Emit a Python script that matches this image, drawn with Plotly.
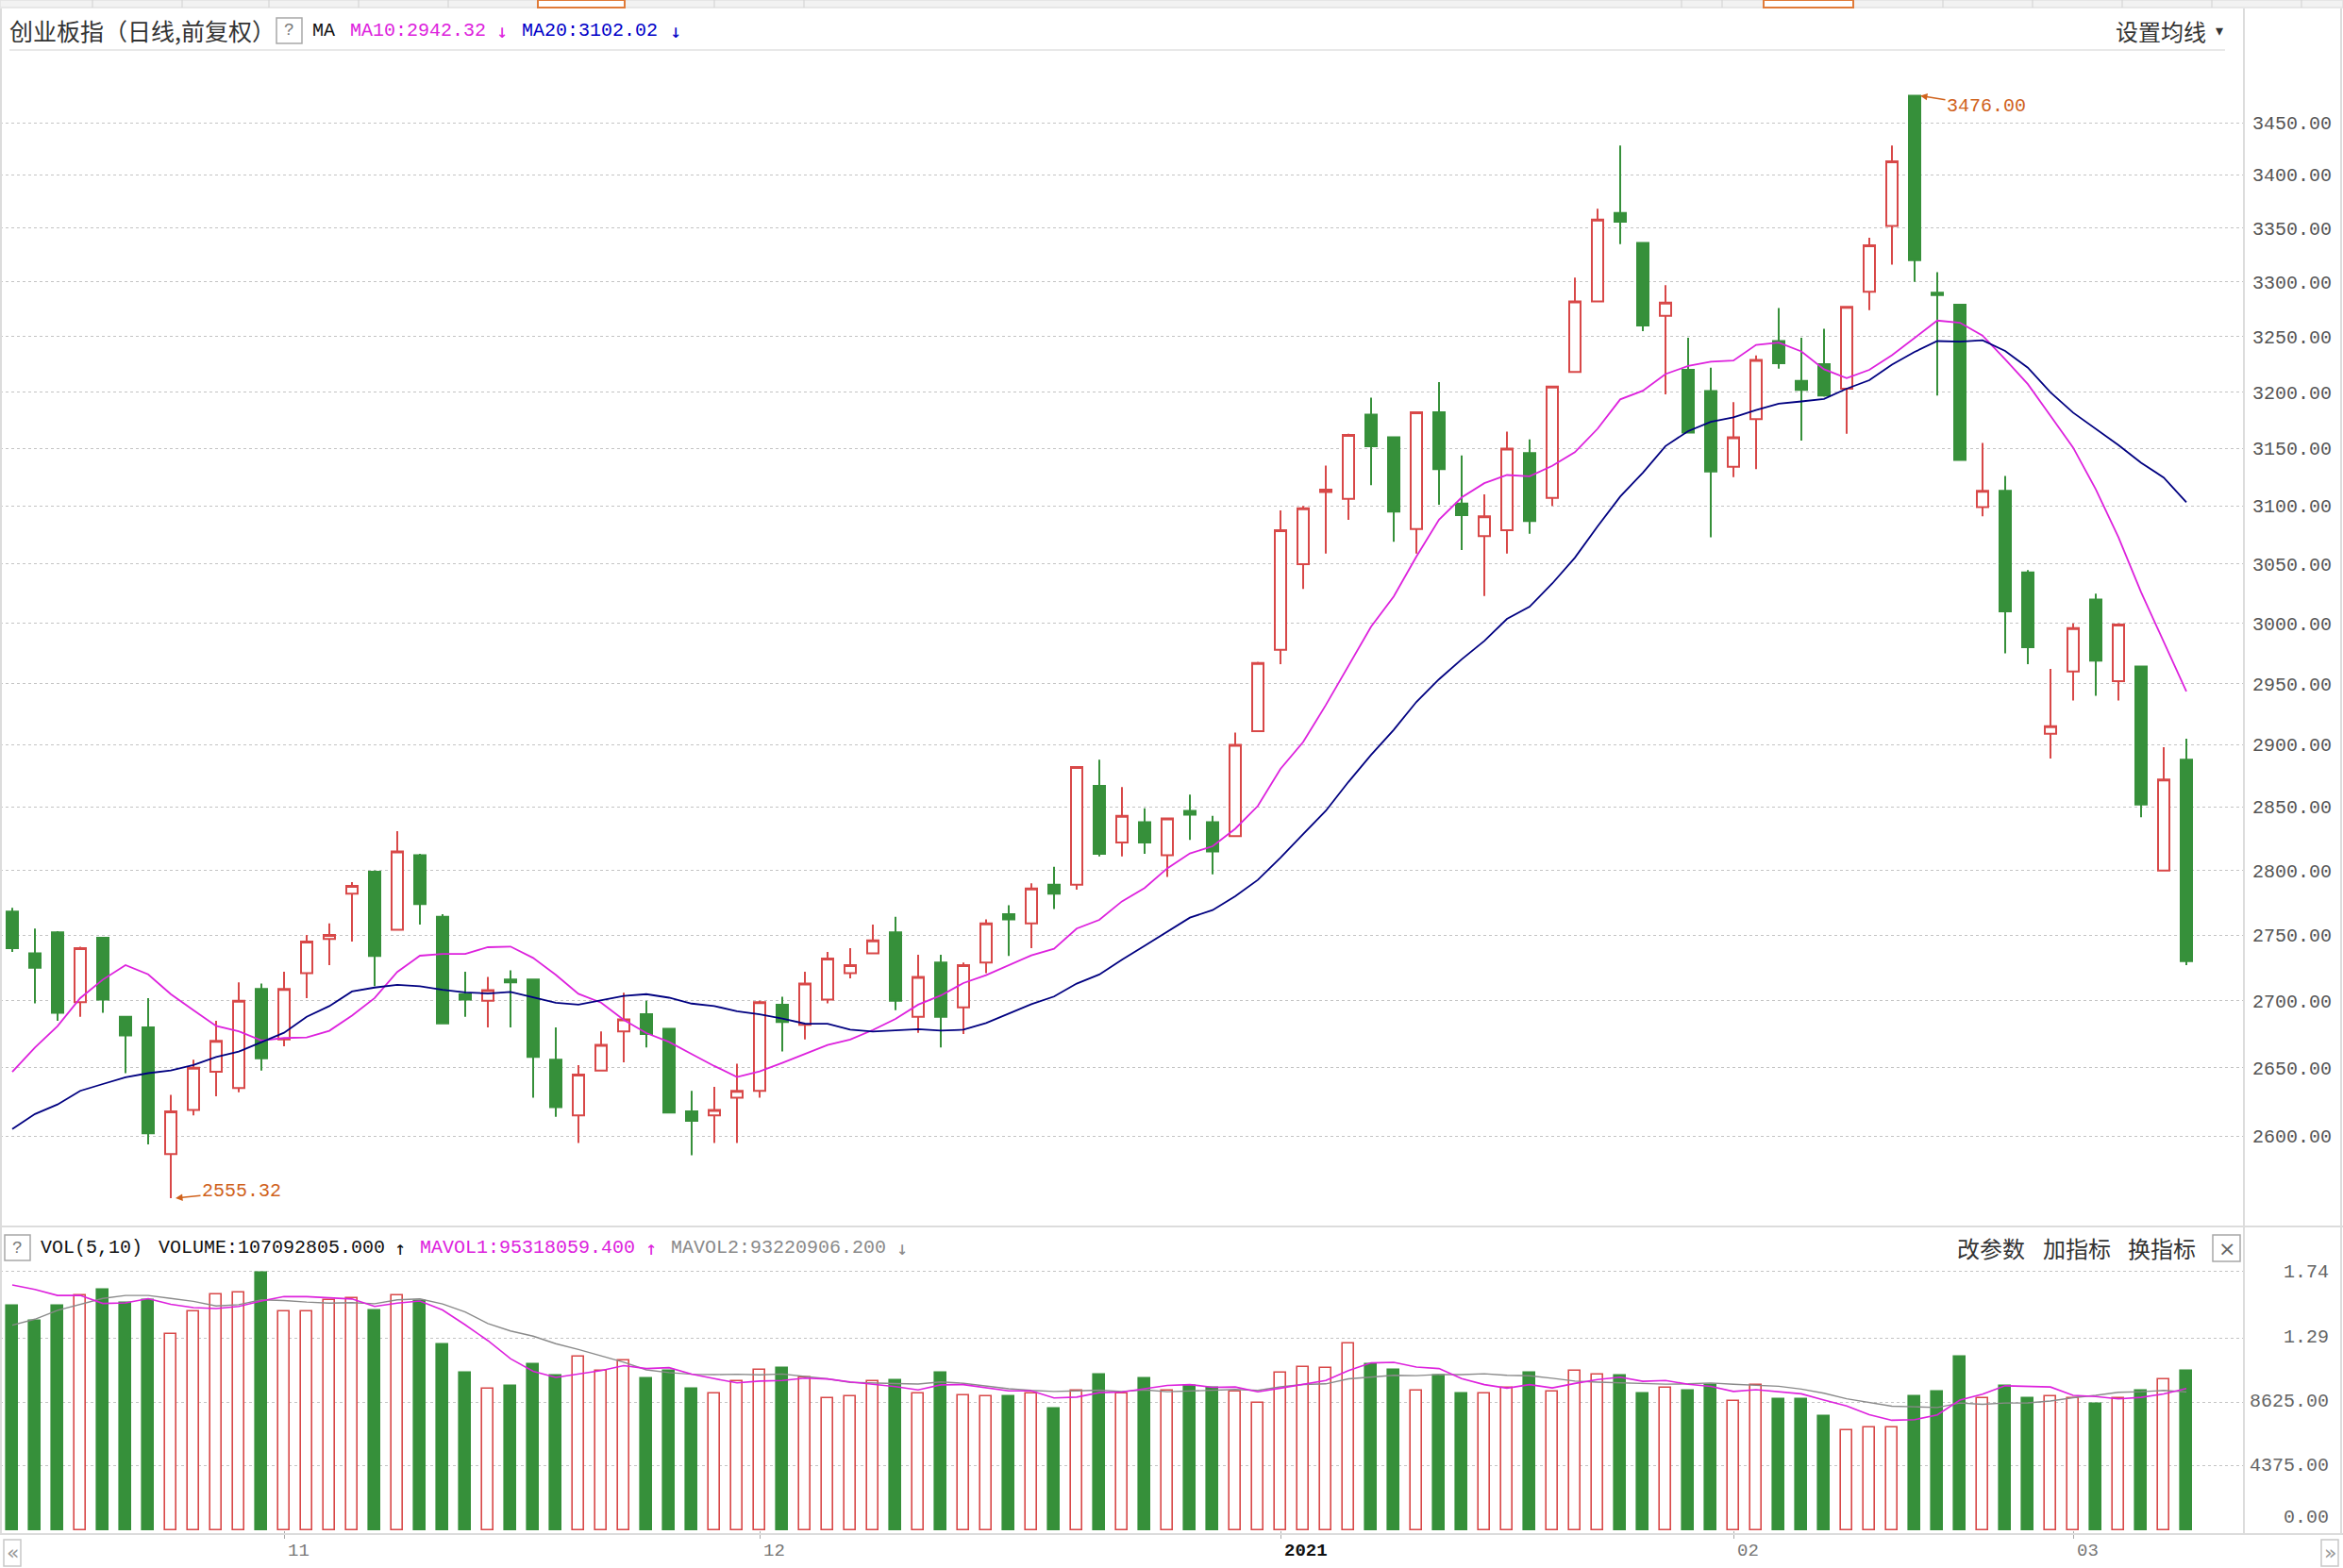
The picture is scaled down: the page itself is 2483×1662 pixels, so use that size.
import math
import pandas as pd
import plotly.graph_objects as go

W, H = 2483, 1662

# trading days shown (ChiNext daily), SSE holidays removed
holidays = ["2021-01-01", "2021-02-11", "2021-02-12", "2021-02-15", "2021-02-16", "2021-02-17"]
dates = [d.strftime("%Y-%m-%d") for d in pd.bdate_range("2020-10-15", "2021-03-08")
         if d.strftime("%Y-%m-%d") not in holidays]

open_ = [2768, 2736, 2752, 2699, 2748, 2688, 2680, 2587, 2619, 2647,
         2635, 2709, 2671, 2721, 2747, 2782, 2799, 2754, 2812, 2764,
         2705, 2700, 2716, 2716, 2656, 2615, 2648, 2677, 2690, 2679,
         2618, 2615, 2628, 2633, 2697, 2682, 2701, 2721, 2736, 2752,
         2688, 2729, 2695, 2729, 2766, 2759, 2789, 2789, 2867, 2822,
         2838, 2812, 2847, 2838, 2827, 2911, 2978, 3050, 3112, 3106,
         3180, 3160, 3080, 3182, 3102, 3074, 3079, 3146, 3107, 3218,
         3282, 3364, 3336, 3269, 3220, 3201, 3134, 3176, 3246, 3210,
         3225, 3203, 3291, 3352, 3476, 3290, 3279, 3099, 3113, 3043,
         2909, 2960, 3020, 2952, 2964, 2800, 2888]
high = [2771, 2755, 2753, 2741, 2748, 2688, 2702, 2630, 2656, 2685,
        2714, 2713, 2722, 2750, 2759, 2791, 2800, 2831, 2813, 2766,
        2722, 2718, 2723, 2716, 2680, 2652, 2677, 2706, 2700, 2679,
        2633, 2636, 2653, 2700, 2703, 2722, 2737, 2740, 2758, 2764,
        2735, 2735, 2729, 2762, 2773, 2790, 2803, 2882, 2888, 2866,
        2849, 2841, 2860, 2843, 2910, 2968, 3096, 3100, 3135, 3163,
        3195, 3160, 3182, 3209, 3144, 3110, 3165, 3158, 3205, 3304,
        3368, 3428, 3336, 3297, 3249, 3222, 3191, 3233, 3276, 3249,
        3257, 3277, 3341, 3428, 3476, 3309, 3280, 3155, 3126, 3045,
        2962, 3000, 3025, 3000, 2964, 2898, 2905]
low = [2737, 2698, 2685, 2688, 2691, 2646, 2594, 2555.32, 2615, 2629,
       2632, 2648, 2666, 2702, 2727, 2745, 2711, 2754, 2758, 2683,
       2688, 2680, 2680, 2628, 2614, 2595, 2648, 2654, 2665, 2617,
       2586, 2595, 2595, 2628, 2662, 2671, 2698, 2717, 2736, 2693,
       2676, 2665, 2675, 2721, 2734, 2740, 2770, 2785, 2811, 2811,
       2813, 2795, 2824, 2797, 2827, 2911, 2966, 3029, 3059, 3088,
       3118, 3069, 3059, 3101, 3062, 3023, 3059, 3076, 3100, 3218,
       3282, 3335, 3255, 3198, 3164, 3073, 3125, 3132, 3221, 3157,
       3196, 3163, 3274, 3316, 3300, 3197, 3140, 3091, 2975, 2966,
       2889, 2936, 2940, 2936, 2842, 2800, 2727]
close = [2740, 2725, 2691, 2740, 2701, 2674, 2602, 2618, 2650, 2670,
         2700, 2657, 2709, 2745, 2750, 2788, 2734, 2815, 2774, 2683,
         2701, 2708, 2714, 2658, 2621, 2645, 2667, 2686, 2675, 2617,
         2611, 2619, 2633, 2699, 2684, 2713, 2732, 2727, 2746, 2700,
         2718, 2688, 2727, 2759, 2762, 2786, 2782, 2882, 2813, 2843,
         2822, 2841, 2844, 2815, 2900, 2967, 3079, 3098, 3114, 3162,
         3152, 3095, 3182, 3132, 3092, 3091, 3150, 3087, 3205, 3282,
         3358, 3356, 3260, 3281, 3164, 3130, 3160, 3229, 3226, 3202,
         3197, 3277, 3334, 3413, 3320, 3288, 3140, 3113, 3010, 2980,
         2915, 2996, 2969, 2999, 2852, 2872, 2730]

# volume, millions of shares
volume = [151, 141, 151, 158, 162, 153, 155, 132, 147, 159,
          160, 173, 147, 147, 155, 156, 148, 158, 154, 125,
          106, 95, 97, 112, 104, 117, 107, 114, 102, 107,
          95, 92, 100, 108, 109, 103, 89, 90, 100, 101,
          92, 106, 91, 90, 90, 92, 82, 94, 105, 92,
          102, 94, 97, 96, 93, 86, 106, 110, 109, 126,
          112, 108, 94, 104, 92, 92, 96, 106, 93, 107,
          105, 104, 92, 96, 94, 98, 87, 98, 88, 88,
          77, 67, 69, 69, 90, 93, 117, 89, 97, 89,
          90, 89, 85, 89, 94, 101.6, 107.09]

# MA values before enough closes are on screen
ma10_head = [2647, 2665, 2681, 2702, 2716, 2727, 2720, 2705, 2693]
ma20_head = [2605, 2616, 2623, 2633, 2638, 2643, 2646, 2648, 2652, 2658,
             2662, 2669, 2676, 2688, 2696, 2707, 2710, 2712, 2711]
mavol1_head = [165, 162, 158, 158]
mavol2_head = [138, 142, 148, 152, 156, 158, 158, 156, 154]


def moving(vals, n, head):
    return head + [sum(vals[i - n + 1:i + 1]) / n for i in range(n - 1, len(vals))]


ma10 = moving(close, 10, ma10_head)
ma20 = moving(close, 20, ma20_head)
mavol1 = moving(volume, 5, mavol1_head)
mavol2 = moving(volume, 10, mavol2_head)

month_days = ["2020-11-02", "2020-12-01", "2021-01-04", "2021-02-01", "2021-03-01"]
month_text = ["11", "12", "2021", "02", "03"]
price_ticks = list(range(2600, 3451, 50))

RED = "#d84848"
GREEN = "#36903a"
MAG = "#dd22dd"
NAVY = "#000080"
GRAY = "#8a8a8a"
MONO = "Liberation Mono, DejaVu Sans Mono, monospace"
CJK = "Noto Sans CJK SC"

up = [c > o for o, c in zip(open_, close)]

fig = go.Figure()
fig.add_trace(go.Candlestick(
    x=dates, open=open_, high=high, low=low, close=close,
    increasing=dict(line=dict(color=RED, width=2), fillcolor="white"),
    decreasing=dict(line=dict(color=GREEN, width=2), fillcolor=GREEN),
    whiskerwidth=0, showlegend=False, xaxis="x", yaxis="y"))
fig.add_trace(go.Scatter(x=dates, y=ma10, mode="lines", line=dict(color=MAG, width=1.8),
                         showlegend=False, xaxis="x", yaxis="y"))
fig.add_trace(go.Scatter(x=dates, y=ma20, mode="lines", line=dict(color=NAVY, width=1.8),
                         showlegend=False, xaxis="x", yaxis="y"))

fig.add_trace(go.Bar(
    x=dates, y=volume, width=0.52,
    marker=dict(color=["white" if u else GREEN for u in up],
                line=dict(color=[RED if u else GREEN for u in up], width=1.6)),
    showlegend=False, xaxis="x2", yaxis="y2"))
fig.add_trace(go.Scatter(x=dates, y=mavol2, mode="lines", line=dict(color=GRAY, width=1.4),
                         showlegend=False, xaxis="x2", yaxis="y2"))
fig.add_trace(go.Scatter(x=dates, y=mavol1, mode="lines", line=dict(color=MAG, width=1.6),
                         showlegend=False, xaxis="x2", yaxis="y2"))


def X(px):
    return px / W


def Y(py):
    return 1 - py / H


def note(text, px, py, color, size=20, family=MONO, anchor="left"):
    return dict(text=text, x=X(px), y=Y(py), xref="paper", yref="paper", xanchor=anchor,
                yanchor="middle", showarrow=False, font=dict(family=family, size=size, color=color))


def line(x0, y0, x1, y1, color="#dcdcdc", width=2):
    return dict(type="line", xref="paper", yref="paper", x0=X(x0), y0=Y(y0), x1=X(x1), y1=Y(y1),
                line=dict(color=color, width=width))


def box(x0, y0, x1, y1, color="#a8a8a8", fill="rgba(0,0,0,0)", width=1.5):
    return dict(type="rect", xref="paper", yref="paper", x0=X(x0), y0=Y(y0), x1=X(x1), y1=Y(y1),
                line=dict(color=color, width=width), fillcolor=fill, layer="above")


shapes = [
    box(0, 0, W, 8, color="#e2e2e2", fill="#f2f2f2"),
    box(570, 0, 662, 8, color="#e07b39", fill="white", width=2),
    box(1869, 0, 1964, 8, color="#e07b39", fill="white", width=2),
    line(10, 53, 2358, 53, color="#e8e8e8"),
    line(2378, 9, 2378, 1626),
    line(2481, 9, 2481, 1626),
    line(1, 9, 1, 1626),
    line(0, 1300, W, 1300),
    line(0, 1626, W, 1626),
    box(293, 19, 320, 46),
    box(5, 1309, 32, 1336),
    box(2345, 1309, 2374, 1337),
    box(4, 1632, 22, 1660, color="#c8c8c8"),
    box(2460, 1632, 2478, 1660, color="#c8c8c8"),
]
for tx in [98, 193, 285, 380, 475, 757, 852, 1782, 1825, 2059, 2154, 2249, 2344, 2439]:
    shapes.append(line(tx, 0, tx, 8, color="#d0d0d0", width=1))

ann = [
    note("创业板指（日线,前复权）", 8, 32, "#333333", size=25, family=CJK),
    note("?", 306, 32, "#777777", size=18, anchor="center"),
    note("MA", 329, 32, "#111111"),
    note("MA10:2942.32", 369, 32, MAG),
    note("↓", 532, 33, MAG, family="DejaVu Sans Mono", anchor="center"),
    note("MA20:3102.02", 551, 32, "#0000c8"),
    note("↓", 716, 33, "#0000c8", family="DejaVu Sans Mono", anchor="center"),
    note("设置均线", 2240, 32, "#333333", size=24, family=CJK),
    note("▾", 2352, 32, "#333333", size=16, family="DejaVu Sans", anchor="center"),
    note("?", 18, 1323, "#777777", size=18, anchor="center"),
    note("VOL(5,10)", 41, 1322, "#111111"),
    note("VOLUME:107092805.000", 166, 1322, "#111111"),
    note("↑", 424, 1323, "#111111", family="DejaVu Sans Mono", anchor="center"),
    note("MAVOL1:95318059.400", 443, 1322, MAG),
    note("↑", 690, 1323, MAG, family="DejaVu Sans Mono", anchor="center"),
    note("MAVOL2:93220906.200", 709, 1322, GRAY),
    note("↓", 956, 1323, GRAY, family="DejaVu Sans Mono", anchor="center"),
    note("改参数", 2072, 1322, "#333333", size=24, family=CJK),
    note("加指标", 2163, 1322, "#333333", size=24, family=CJK),
    note("换指标", 2253, 1322, "#333333", size=24, family=CJK),
    note("×", 2360, 1323, "#666666", size=22, family="DejaVu Sans", anchor="center"),
    note("«", 13, 1645, "#999999", size=22, family="DejaVu Sans", anchor="center"),
    note("»", 2469, 1645, "#999999", size=22, family="DejaVu Sans", anchor="center"),
]
for val, py in zip(["1.74", "1.29", "8625.00", "4375.00", "0.00"], [1348, 1417, 1485, 1553, 1608]):
    ann.append(note(val, 2470, py, "#666666", anchor="right"))
for d, t in zip(month_days, month_text):
    bold = t == "2021"
    ann.append(dict(text="<b>%s</b>" % t if bold else t, x=d, xref="x2", y=Y(1644), yref="paper",
                    xanchor="left", yanchor="middle", xshift=2, showarrow=False,
                    font=dict(family=MONO, size=19, color="#111111" if bold else "#777777")))

# highest / lowest price markers
hi_i = high.index(max(high))
lo_i = low.index(min(low))
ORANGE = "#d0621c"
ann.append(dict(text="%.2f" % high[hi_i], x=dates[hi_i], y=math.log10(high[hi_i]), xref="x", yref="y",
                xshift=6, ax=70, ay=11, showarrow=True, arrowhead=2, arrowsize=1, arrowwidth=1.5,
                arrowcolor=ORANGE, standoff=0, font=dict(family=MONO, size=20, color=ORANGE)))
ann.append(dict(text="%.2f" % low[lo_i], x=dates[lo_i], y=math.log10(low[lo_i]), xref="x", yref="y",
                xshift=5, ax=70, ay=-7, showarrow=True, arrowhead=2, arrowsize=1, arrowwidth=1.5,
                arrowcolor=ORANGE, standoff=0, font=dict(family=MONO, size=20, color=ORANGE)))

xr = [-13 / 24, -13 / 24 + 2378 / 24]
fig.update_layout(
    width=W, height=H, margin=dict(l=0, r=0, t=0, b=0),
    paper_bgcolor="white", plot_bgcolor="white",
    boxgap=0.5, boxgroupgap=0, bargap=0,
    shapes=shapes, annotations=ann,
    xaxis=dict(domain=[0, 2378 / W], type="category", range=xr, anchor="y",
               showticklabels=False, showgrid=False, zeroline=False, ticks="",
               rangeslider=dict(visible=False)),
    xaxis2=dict(domain=[0, 2378 / W], type="category", matches="x", anchor="y2",
                tickvals=month_days, ticks="outside", ticklen=8, tickcolor="#aaaaaa",
                showticklabels=False, showgrid=False, zeroline=False),
    yaxis=dict(domain=[Y(1298), Y(56)], type="log",
               range=[math.log10(2536.5), math.log10(3517.9)], side="right", anchor="x",
               tickvals=price_ticks, ticktext=["%.2f" % v for v in price_ticks],
               tickfont=dict(family=MONO, size=20, color="#555555"), ticks="",
               ticklabelstandoff=8,
               showgrid=True, gridcolor="#c4c4c4", griddash="dot", gridwidth=1, zeroline=False),
    yaxis2=dict(domain=[Y(1622), Y(1340)], range=[0, 179], side="right", anchor="x2",
                tickvals=[0, 43.75, 86.25, 129, 174], showticklabels=False, ticks="",
                showgrid=True, gridcolor="#c4c4c4", griddash="dot", gridwidth=1, zeroline=False),
)

# page body margin off so the chart fills the window exactly; no modebar
fig.write_html("out.html", config={"displayModeBar": False},
               post_script="document.body.style.margin='0px';")
